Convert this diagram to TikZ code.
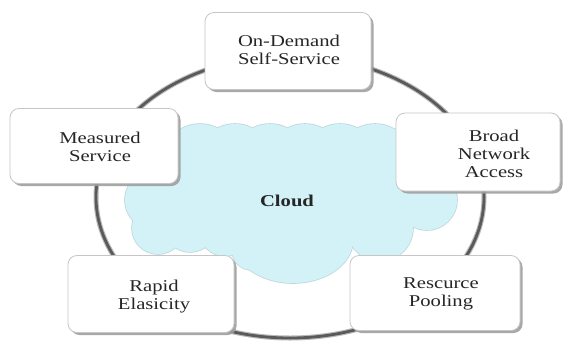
\documentclass[tikz,border=0pt]{standalone}
\usepackage{fontspec}
\setmainfont{Liberation Serif}
\usetikzlibrary{shadows}
\definecolor{cloudblue}{RGB}{210,242,248}
\definecolor{cloudedge}{RGB}{190,215,222}
\definecolor{ringgray}{RGB}{90,90,90}
\tikzset{
  feature/.style={draw=gray!45, line width=0.8pt, fill=white, rounded corners=9pt,
    drop shadow={shadow xshift=2.5pt, shadow yshift=-2.5pt, fill=gray!75, opacity=0.9},
    minimum width=166pt, minimum height=76pt, inner sep=0pt},
  label/.style={align=center, inner sep=0pt, xscale=1.25, transform shape,
    font=\fontsize{16.5}{18}\selectfont, text=black!85}
}
\newcommand{\cloudparts}[1]{%
  #1 (200,162) circle (38pt); #1 (235,162) circle (38pt); #1 (270,162) circle (38pt);
  #1 (305,162) circle (38pt); #1 (340,162) circle (38pt); #1 (375,162) circle (38pt);
  #1 (400,165) circle (36pt);
  #1 (155,200) circle (30pt); #1 (158,228) circle (26pt); #1 (190,226) circle (26pt);
  #1 (225,230) circle (26pt); #1 (252,250) circle (20pt);
  #1 (293,240) ellipse [x radius=60, y radius=43];
  #1 (427,200) circle (30pt); #1 (380,228) circle (33pt);
  #1 (165,165) rectangle (405,245);}
\begin{document}
\begin{tikzpicture}[x=1pt, y=-1pt]
\useasboundingbox (0,0) rectangle (564,341);
\fill[white] (0,0) rectangle (564,341);
% ring
\draw[gray!55, line width=5pt] (290,197) ellipse [x radius=194, y radius=141];
\draw[ringgray, line width=2.8pt] (290,197) ellipse [x radius=194, y radius=141];
% cloud: outline of the union, then fill
\cloudparts{\draw[cloudedge, line width=1.6pt]}
\cloudparts{\fill[cloudblue]}
\node[font=\fontsize{16.5}{18}\selectfont\bfseries, xscale=1.25, transform shape, text=black!85] (cloud) at (287,201) {Cloud};
% boxes
\node[feature, minimum height=77pt] (od) at (288,51) {};
\node[feature, minimum width=168pt, minimum height=75pt] (ms) at (94,146) {};
\node[feature, minimum width=164pt, minimum height=78pt] (bn) at (478,152) {};
\node[feature, minimum height=77pt] (re) at (151,294) {};
\node[feature, minimum width=170pt, minimum height=75pt] (rp) at (435,293) {};
% labels
\node[label] (odt) at (289,50) {On-Demand\\Self-Service};
\node[label] (mst) at (100,147) {Measured\\Service};
\node[label] (bnt) at (494,154) {Broad\\Network\\Access};
\node[label] (ret) at (154,297) {Rapid\\Elasicity};
\node[label] (rpt) at (441,294) {Rescurce\\Pooling};
\end{tikzpicture}
\end{document}
